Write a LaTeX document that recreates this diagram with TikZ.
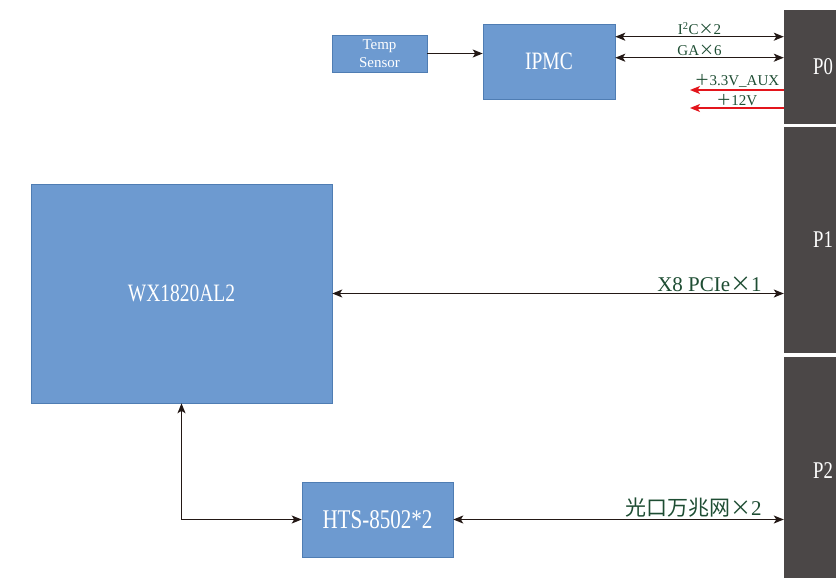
\documentclass[tikz,border=0pt]{standalone}
\usepackage{fontspec}
\setmainfont{Liberation Serif}
\newfontfamily\boxfont[FakeStretch=0.78]{Liberation Serif}
\newfontfamily\cjk{Noto Sans CJK SC}
\usepackage{xcolor}
\usetikzlibrary{arrows.meta,positioning}
\definecolor{boxblue}{HTML}{6D9AD0}
\definecolor{boxedge}{HTML}{4F7DB3}
\definecolor{slotgray}{HTML}{4B4747}
\definecolor{lblgreen}{HTML}{1E4D33}
\definecolor{pwrred}{HTML}{E3151C}
\definecolor{linedark}{HTML}{231815}

\begin{document}
\begin{tikzpicture}[x=1pt, y=-1pt,
  blk/.style={draw=boxedge, fill=boxblue, text=white, line width=0.6pt,
    inner sep=0pt, font=\boxfont\fontsize{25}{27}\selectfont},
  slot/.style={fill=slotgray, inner sep=0pt, minimum width=52pt},
  slottxt/.style={text=white, font=\boxfont\fontsize{24}{26}\selectfont},
  lbl/.style={text=lblgreen, inner sep=1.5pt},
  arr/.style={-{Stealth[length=10pt, width=8pt, inset=2.5pt]}, line width=1.2pt, linedark},
  darr/.style={{Stealth[length=10pt, width=8pt, inset=2.5pt]}-{Stealth[length=10pt, width=8pt, inset=2.5pt]},
    line width=1.2pt, linedark},
  rarr/.style={-{Stealth[length=10pt, width=8pt, inset=2.5pt]}, line width=1.2pt, pwrred}]
\useasboundingbox (0,0) rectangle (836,578);
% ================= backplane slots =================
\node[slot, minimum height=114pt] (p0) at (810,67) {};
\node[slot, minimum height=226pt] (p1) at (810,240) {};
\node[slot, minimum height=221pt] (p2) at (810,467.5) {};
\node[slottxt] at ([xshift=13pt]p0.center) {P0};
\node[slottxt] at ([xshift=13pt]p1.center) {P1};
\node[slottxt] at ([xshift=13pt, yshift=-3pt]p2.center) {P2};
% ================= board blocks =================
\node[blk, minimum width=95pt, minimum height=37pt, align=center,
  font=\fontsize{15}{18}\selectfont] (temp) at (379.5,53.5) {Temp\\Sensor};
\node[blk, minimum width=132pt, minimum height=75pt] (ipmc) at (549,61.5) {IPMC};
\node[blk, minimum width=301pt, minimum height=219pt] (wx) at (181.5,293.5) {WX1820AL2};
\node[blk, minimum width=151pt, minimum height=75pt,
  font=\boxfont\fontsize{27}{29}\selectfont] (hts) at (377.5,519.5) {HTS-8502*2};
% --- management ---
\draw[arr] (temp.east) -- (temp.east -| ipmc.west);
\draw[darr] ([yshift=-13pt]ipmc.north east) -- ([yshift=-13pt]ipmc.north east -| p0.west)
  node[lbl, midway, above, font=\fontsize{15}{17}\selectfont] {I\textsuperscript{2}C{\cjk ×}2};
\draw[darr] ([yshift=-34pt]ipmc.north east) -- ([yshift=-34pt]ipmc.north east -| p0.west)
  node[lbl, midway, above, font=\fontsize{15}{17}\selectfont] {GA{\cjk ×}6};
% --- power in ---
\coordinate (aux) at (690,90);
\coordinate (v12) at (690,108);
\draw[rarr] (aux -| p0.west) -- (aux)
  node[lbl, midway, above, font=\fontsize{15}{17}\selectfont] {{\cjk ＋}3.3V\_AUX};
\draw[rarr] (v12 -| p0.west) -- (v12)
  node[lbl, midway, above, font=\fontsize{15}{17}\selectfont] {{\cjk ＋}12V};
% --- data links ---
\draw[darr] (wx.east) -- (wx.east -| p1.west)
  node[lbl, pos=1, above left, xshift=-20pt, font=\fontsize{21}{23}\selectfont]
  {X8 PCIe{\cjk ×}1};
\draw[darr] (hts.east) -- (hts.east -| p2.west)
  node[lbl, pos=1, above left, xshift=-20pt, font=\fontsize{21}{23}\selectfont]
  {{\cjk 光口万兆网×}2};
\draw[darr] (hts.west) -| (wx.south);
\end{tikzpicture}
\end{document}
